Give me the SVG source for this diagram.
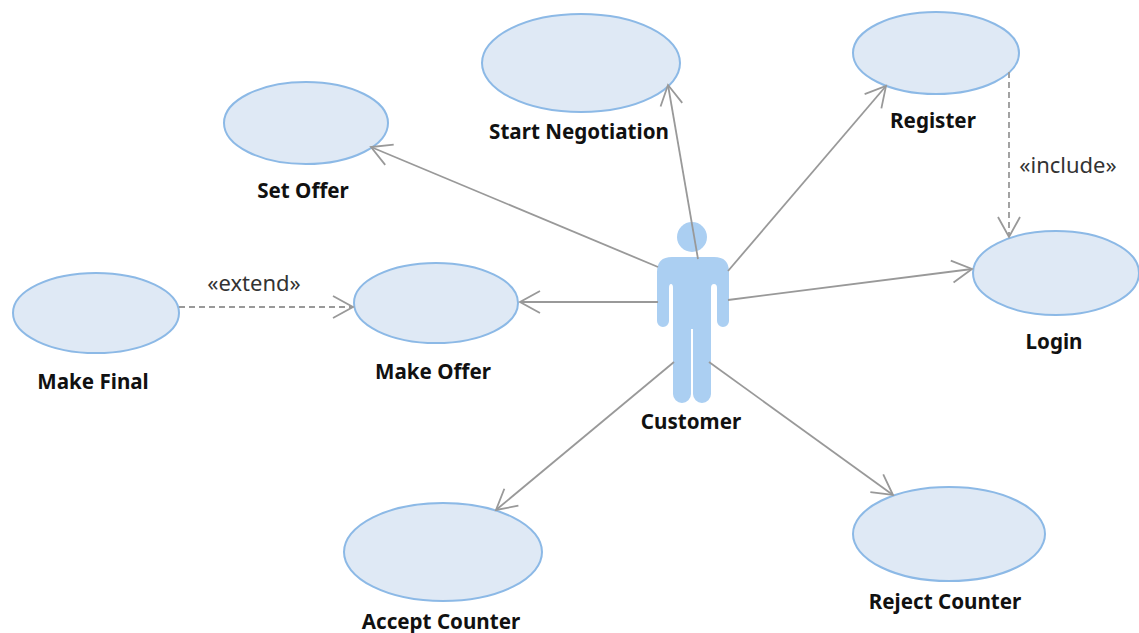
<svg xmlns="http://www.w3.org/2000/svg" width="1139" height="633" viewBox="0 0 1139 633">
<style>
.uc{fill:#dfe9f5;stroke:#8cb9e6;stroke-width:2}
.t{font-family:"Noto Sans","DejaVu Sans",sans-serif;font-weight:700;font-size:20.600px;fill:#111;text-anchor:middle}
.s{font-family:"Noto Sans","DejaVu Sans",sans-serif;font-size:22px;fill:#333;text-anchor:middle}
.c{fill:none;stroke:#999;stroke-width:1.8}
.d{stroke-dasharray:6 4}
.a{fill:#abcff2}
</style>
<defs>
<marker id="o" markerUnits="userSpaceOnUse" markerWidth="34" markerHeight="34" refX="22" refY="17" orient="auto"><path d="M2 6L22 17L2 28" fill="none" stroke="#999" stroke-width="1.8"/></marker>
</defs>
<g id="start-negotiation"><ellipse class="uc" cx="581" cy="63" rx="99" ry="49"/><text class="t" x="579" y="139">Start Negotiation</text></g>
<g id="register"><ellipse class="uc" cx="936" cy="53" rx="83" ry="41"/><text class="t" x="933" y="128">Register</text></g>
<g id="set-offer"><ellipse class="uc" cx="306" cy="123" rx="82" ry="41"/><text class="t" x="303" y="198">Set Offer</text></g>
<g id="make-final"><ellipse class="uc" cx="96" cy="313" rx="83" ry="40"/><text class="t" x="93" y="389">Make Final</text></g>
<g id="make-offer"><ellipse class="uc" cx="436" cy="303" rx="82" ry="40"/><text class="t" x="433" y="379">Make Offer</text></g>
<g id="login"><ellipse class="uc" cx="1056" cy="273" rx="83" ry="42"/><text class="t" x="1054" y="349">Login</text></g>
<g id="accept-counter"><ellipse class="uc" cx="443" cy="552" rx="99" ry="49"/><text class="t" x="441" y="629">Accept Counter</text></g>
<g id="reject-counter"><ellipse class="uc" cx="949" cy="534" rx="96" ry="47"/><text class="t" x="945" y="609">Reject Counter</text></g>
<g id="customer">
<circle class="a" cx="692" cy="237" r="15"/>
<path class="a" d="M672 257H714Q729 257 729 272V321A6 6 0 0 1 717 321V288Q717 284 714 284Q711 284 711 288V394A9 9 0 0 1 693 394V329H691V394A9 9 0 0 1 673 394V288Q673 284 671 284Q669 284 669 288V321A6 6 0 0 1 657 321V272Q657 257 672 257Z"/>
<text class="t" x="691" y="429">Customer</text>
</g>
<g id="connectors">
<path class="c" marker-end="url(#o)" d="M698 259L668 85"/>
<path class="c" marker-end="url(#o)" d="M728 271L886 86"/>
<path class="c" marker-end="url(#o)" d="M658 267L371 147"/>
<path class="c" marker-end="url(#o)" d="M658 302L520 302"/>
<path class="c" marker-end="url(#o)" d="M728 300L972 269"/>
<path class="c" marker-end="url(#o)" d="M674 362L496 510"/>
<path class="c" marker-end="url(#o)" d="M709 362L893 495"/>
<path class="c d" marker-end="url(#o)" d="M179 307L353 307"/>
<path class="c d" marker-end="url(#o)" d="M1009 72L1009 237"/>
<text class="s" x="254" y="291">«extend»</text>
<text class="s" x="1068" y="173">«include»</text>
</g>
</svg>
